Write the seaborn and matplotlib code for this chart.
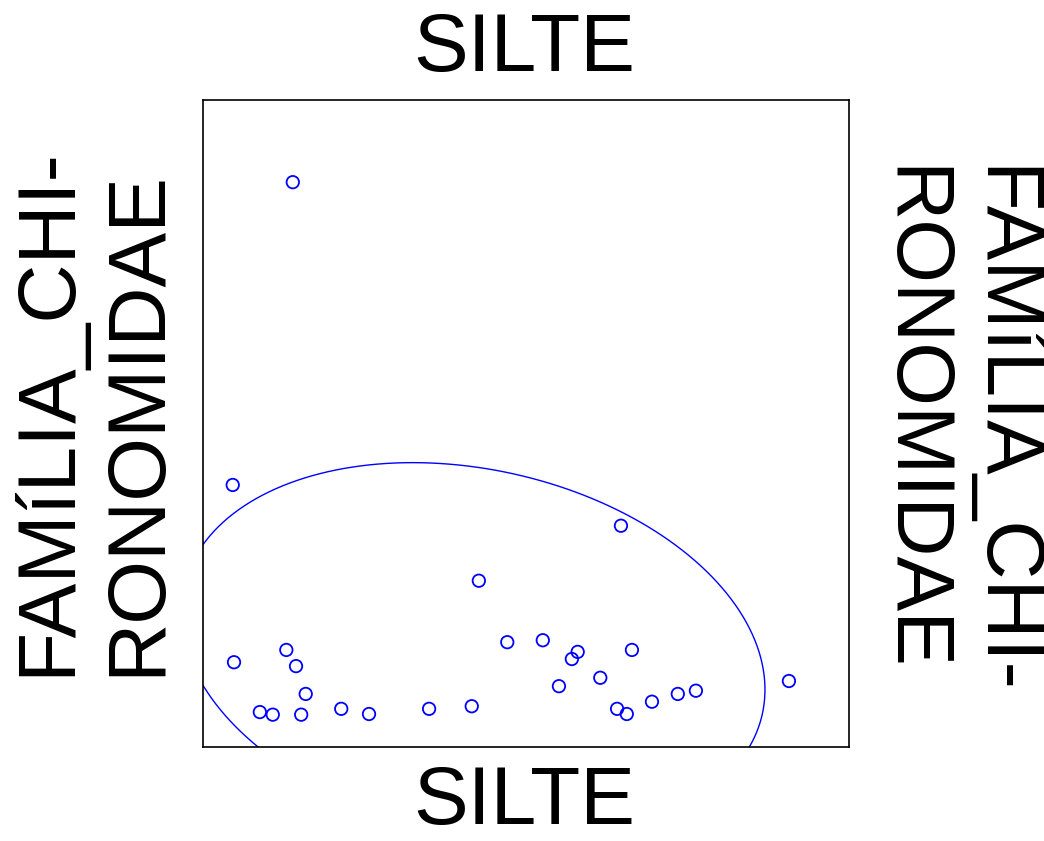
import numpy as np
import pandas as pd
import matplotlib
matplotlib.use("Agg")
import matplotlib.pyplot as plt
import seaborn as sns

# Data (arbitrary units, axes span 0..100)
silte = [4.6, 42.7, 47.1, 4.8, 12.9, 14.4, 15.9, 8.8, 10.8, 15.2, 21.4, 25.7,
         35.0, 41.6, 64.7, 52.6, 58.0, 57.1, 66.4, 61.5, 55.1, 90.7, 76.3, 73.5,
         69.5, 64.1, 65.6, 13.9]
chiron = [40.5, 25.7, 16.2, 13.1, 15.0, 12.5, 8.2, 5.4, 5.0, 5.0, 5.9, 5.1,
          5.9, 6.3, 34.2, 16.5, 14.7, 13.6, 15.0, 10.7, 9.4, 10.2, 8.7, 8.2,
          7.0, 5.9, 5.1, 87.3]
x_label = "SILTE"
y_label = "FAMíLIA_CHI-\nRONOMIDAE"

df = pd.DataFrame({"x": silte, "y": chiron})

sns.set_theme(style="white")
plt.rcParams["font.family"] = ["Liberation Sans", "DejaVu Sans"]

W, H = 1044, 841
fig = plt.figure(figsize=(W / 100, H / 100), dpi=100)
ax = fig.add_axes([203 / W, 1 - 747 / H, (849 - 203) / W, (747 - 100) / H])

sns.scatterplot(data=df, x="x", y="y", ax=ax, marker="o", s=80,
                facecolor="none", edgecolor="#0000ff", linewidth=1.3)

# concentration ellipse from the data covariance
xy = df[["x", "y"]].to_numpy()
mu = xy.mean(axis=0)
cov = np.cov(xy.T)
vals, vecs = np.linalg.eigh(cov)
k = 1.75
t = np.linspace(0, 2 * np.pi, 400)
circ = np.vstack([np.cos(t), np.sin(t)])
ell = (vecs @ (np.sqrt(vals)[:, None] * circ)) * k + mu[:, None]
ax.plot(ell[0], ell[1], color="#0000ff", linewidth=1.0, clip_on=True)

ax.set_xlim(0, 100)
ax.set_ylim(0, 100)
ax.set_xticks([])
ax.set_yticks([])
ax.set_xlabel("")
ax.set_ylabel("")
for sp in ax.spines.values():
    sp.set_visible(True)
    sp.set_color("black")
    sp.set_linewidth(1.2)

fs = 59
fig.text(524 / W, 1 - 71 / H, x_label, ha="center", va="baseline", fontsize=fs, color="black")
fig.text(524 / W, 1 - 824 / H, x_label, ha="center", va="baseline", fontsize=fs, color="black")
fig.text(93 / W, 1 - 412 / H, y_label, rotation=90, ha="center", va="center",
         multialignment="left", fontsize=fs, color="black", linespacing=1.24)
fig.text(956 / W, 1 - 430 / H, y_label, rotation=270, ha="center", va="center",
         multialignment="left", fontsize=fs, color="black", linespacing=1.24)

fig.savefig("out.png", dpi=100, facecolor="white")
